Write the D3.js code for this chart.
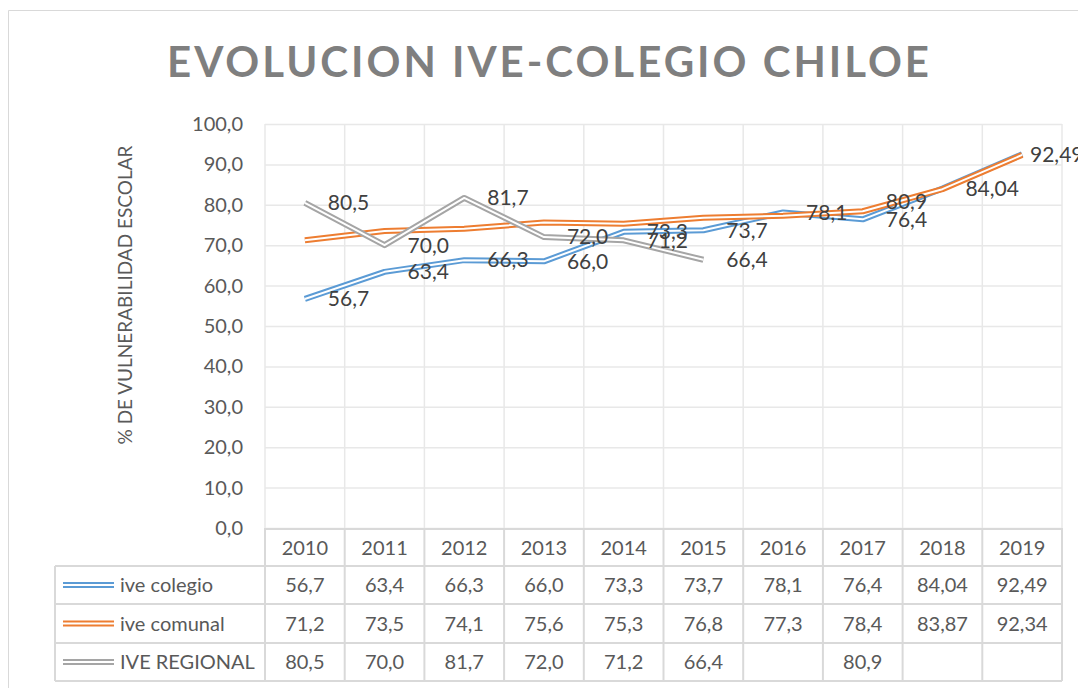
<!DOCTYPE html>
<html>
<head>
<meta charset="utf-8">
<script src="https://cdn.jsdelivr.net/npm/d3@7"></script>
<style>
  body { margin: 0; background: #fff; }
  svg { display: block; font-family: Lato, "Noto Sans", sans-serif; }
</style>
</head>
<body>
<div id="chart"></div>
<script>
const width = 1078;
const height = 688;

// data
const years = ["2010", "2011", "2012", "2013", "2014", "2015", "2016", "2017", "2018", "2019"];
const iveColegio = [56.7, 63.4, 66.3, 66.0, 73.3, 73.7, 78.1, 76.4, 84.04, 92.49];
const iveComunal = [71.2, 73.5, 74.1, 75.6, 75.3, 76.8, 77.3, 78.4, 83.87, 92.34];
const iveRegional = [80.5, 70.0, 81.7, 72.0, 71.2, 66.4, null, 80.9, null, null];
const seriesNames = ["ive colegio", "ive comunal", "IVE REGIONAL"];
const seriesColors = ["#5B9BD5", "#ED7D31", "#A5A5A5"];
const yTicks = [0, 10, 20, 30, 40, 50, 60, 70, 80, 90, 100];

const series = [iveColegio, iveComunal, iveRegional].map((values, i) => ({
    name: seriesNames[i],
    color: seriesColors[i],
    values: values,
    labels: i !== 1 // comunal has no data labels
}));

const es = d3.formatLocale({ decimal: ",", thousands: ".", grouping: [3], currency: ["$", ""] });
const fmt1 = es.format(".1f");
const fmt2 = es.format(".2f");
const fmtVal = v => Math.abs(v * 10 - Math.round(v * 10)) < 1e-6 ? fmt1(v) : fmt2(v);

const plot = { left: 265, right: 1062, top: 124, bottom: 528 };
const table = { left: 55, rows: [528, 566, 604, 643, 681] };

const svg = d3.select("#chart").append("svg")
    .attr("width", width)
    .attr("height", height);

// chart frame (cropped at right/bottom)
svg.append("path")
    .attr("d", `M8.5,${height + 5}V10.5H${width + 5}`)
    .attr("fill", "none")
    .attr("stroke", "#d9d9d9");

svg.append("text")
    .attr("x", 548)
    .attr("y", 77)
    .attr("text-anchor", "middle")
    .attr("textLength", 762)
    .attr("lengthAdjust", "spacing")
    .style("font-size", "42px")
    .style("font-weight", "bold")
    .style("fill", "#7f7f7f")
    .text("EVOLUCION IVE-COLEGIO CHILOE");

const x = d3.scaleBand()
    .domain(years)
    .range([plot.left, plot.right]);

const y = d3.scaleLinear()
    .domain([0, 100])
    .range([plot.bottom, plot.top]);

// horizontal gridlines
svg.append("g")
    .attr("transform", `translate(${plot.left},0)`)
    .call(d3.axisLeft(y).tickValues(yTicks).tickSize(-(plot.right - plot.left)).tickFormat(""))
    .call(g => g.select(".domain").remove())
    .call(g => g.selectAll("line").attr("stroke", "#e8e8e8").attr("stroke-width", 1.5));

// vertical gridlines between categories
svg.append("g")
    .selectAll("line")
    .data(years.concat(["end"]))
    .join("line")
    .attr("x1", (d, i) => i < years.length ? x(d) : plot.right)
    .attr("x2", (d, i) => i < years.length ? x(d) : plot.right)
    .attr("y1", plot.top)
    .attr("y2", plot.bottom)
    .attr("stroke", "#e8e8e8")
    .attr("stroke-width", 1.5);

// y tick labels
svg.append("g")
    .attr("transform", `translate(243,0)`)
    .call(d3.axisLeft(y).tickValues(yTicks).tickSize(0).tickPadding(0).tickFormat(fmt1))
    .call(g => g.select(".domain").remove())
    .call(g => g.selectAll("text")
        .style("font-family", "Lato, 'Noto Sans', sans-serif")
        .style("font-size", "20px")
        .attr("fill", "#595959"));

svg.append("text")
    .attr("transform", "rotate(-90)")
    .attr("x", -295)
    .attr("y", 132)
    .attr("text-anchor", "middle")
    .style("font-size", "19px")
    .style("fill", "#595959")
    .text("% DE VULNERABILIDAD ESCOLAR");

// lines (double line: colour stroke with white core)
const line = d3.line()
    .defined(d => d != null)
    .x((d, i) => x(years[i]) + x.bandwidth() / 2)
    .y(d => y(d));

series.forEach(s => {
    svg.append("path")
        .datum(s.values)
        .attr("fill", "none")
        .attr("stroke", s.color)
        .attr("stroke-width", 6)
        .attr("stroke-linejoin", "round")
        .attr("d", line);
    svg.append("path")
        .datum(s.values)
        .attr("fill", "none")
        .attr("stroke", "#fff")
        .attr("stroke-width", 2)
        .attr("stroke-linejoin", "round")
        .attr("d", line);
});

// data labels, to the right of each point
series.filter(s => s.labels).forEach(s => {
    svg.append("g")
        .selectAll("text")
        .data(s.values.map((v, i) => ({ v, i })).filter(d => d.v != null))
        .join("text")
        .attr("x", d => Math.min(x(years[d.i]) + x.bandwidth() / 2 + 23, 1030))
        .attr("y", d => y(d.v))
        .attr("dy", "0.35em")
        .style("font-size", "21px")
        .style("fill", "#404040")
        .text(d => fmtVal(d.v));
});

// data table
const tbl = svg.append("g");
const border = "#d9d9d9";
const rowTop = table.rows;

// horizontal table lines
tbl.append("line")
    .attr("x1", plot.left).attr("x2", plot.right)
    .attr("y1", rowTop[0] + 1).attr("y2", rowTop[0] + 1)
    .attr("stroke", border).attr("stroke-width", 2);
rowTop.slice(1).forEach(r => {
    tbl.append("line")
        .attr("x1", table.left).attr("x2", plot.right)
        .attr("y1", r).attr("y2", r)
        .attr("stroke", border).attr("stroke-width", 2);
});
// vertical table lines
tbl.append("line")
    .attr("x1", table.left).attr("x2", table.left)
    .attr("y1", rowTop[1]).attr("y2", rowTop[4])
    .attr("stroke", border).attr("stroke-width", 2);
years.concat(["end"]).forEach((d, i) => {
    const xx = i < years.length ? x(d) : plot.right;
    tbl.append("line")
        .attr("x1", xx).attr("x2", xx)
        .attr("y1", rowTop[0]).attr("y2", rowTop[4])
        .attr("stroke", border).attr("stroke-width", 2);
});

tbl.append("g")
    .selectAll("text")
    .data(years)
    .join("text")
    .attr("x", d => x(d) + x.bandwidth() / 2)
    .attr("y", (rowTop[0] + rowTop[1]) / 2 + 1)
    .attr("dy", "0.35em")
    .attr("text-anchor", "middle")
    .style("font-size", "20px")
    .style("fill", "#595959")
    .text(d => d);

series.forEach((s, k) => {
    const cy = (rowTop[k + 1] + rowTop[k + 2]) / 2;
    const key = `M63,${cy}H114`;
    tbl.append("path").attr("d", key).attr("stroke", s.color).attr("stroke-width", 6);
    tbl.append("path").attr("d", key).attr("stroke", "#fff").attr("stroke-width", 2);
    tbl.append("text")
        .attr("x", 120)
        .attr("y", cy)
        .attr("dy", "0.35em")
        .style("font-size", "20px")
        .style("fill", "#595959")
        .text(s.name);
    tbl.append("g")
        .selectAll("text")
        .data(s.values.map((v, i) => ({ v, i })).filter(d => d.v != null))
        .join("text")
        .attr("x", d => x(years[d.i]) + x.bandwidth() / 2)
        .attr("y", cy)
        .attr("dy", "0.35em")
        .attr("text-anchor", "middle")
        .style("font-size", "20px")
        .style("fill", "#595959")
        .text(d => fmtVal(d.v));
});
</script>
</body>
</html>
